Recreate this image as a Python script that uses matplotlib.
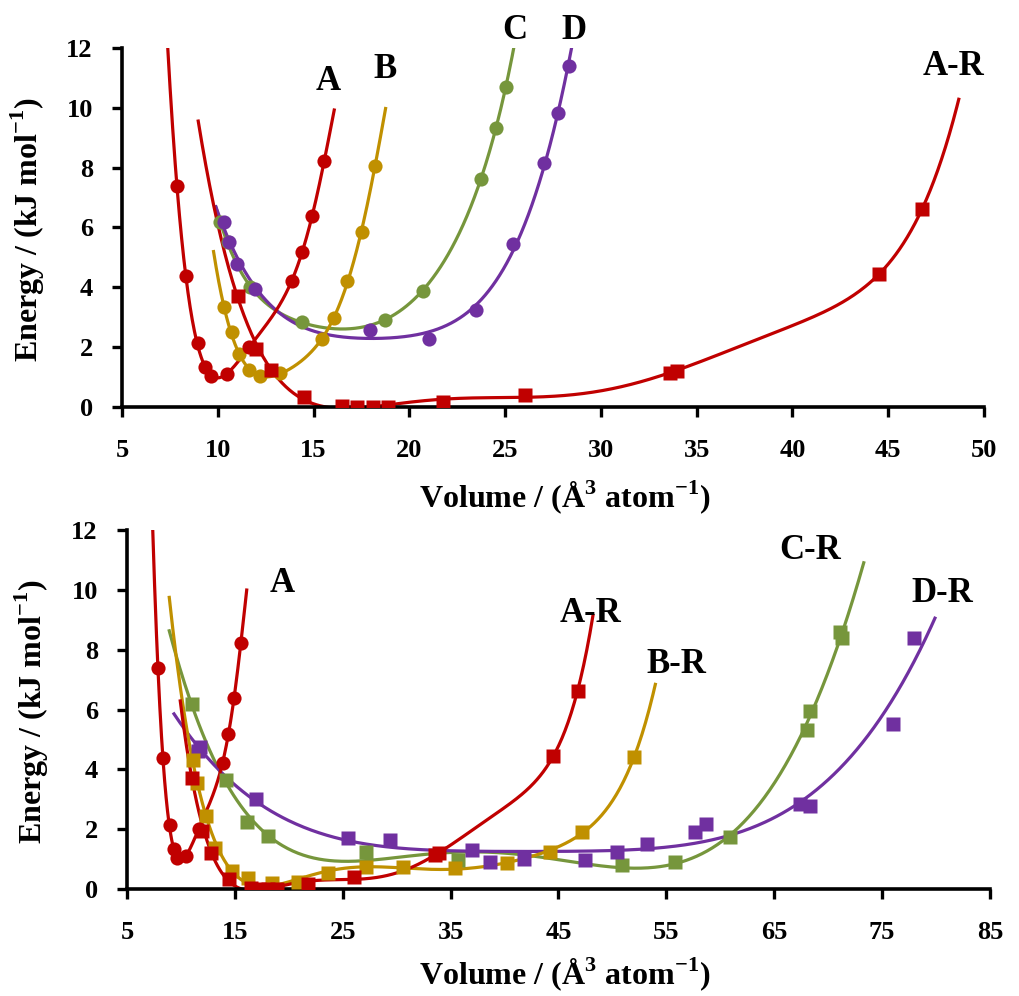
import numpy as np
import matplotlib
matplotlib.use("Agg")
import matplotlib.pyplot as plt

plt.rcParams["font.family"] = ["Liberation Serif", "DejaVu Serif"]
plt.rcParams["font.weight"] = "bold"
plt.rcParams["mathtext.fontset"] = "custom"
plt.rcParams["mathtext.rm"] = "Liberation Serif:bold"
plt.rcParams["mathtext.bf"] = "Liberation Serif:bold"

RED = "#C00000"
GOLD = "#C09000"
GREEN = "#76963C"
PURPLE = "#7030A0"

# ---- data (volume, energy) ----
a_x = [7.87, 8.32, 8.95, 9.33, 9.63, 10.46, 11.65, 13.87, 14.39, 14.93, 15.56]
a_y = [7.40, 4.38, 2.15, 1.35, 1.03, 1.10, 2.02, 4.21, 5.17, 6.39, 8.23]

ar_x = [11.07, 12.0, 12.76, 14.5, 16.47, 17.25, 18.12, 18.9, 21.77, 26.03, 33.6, 33.95, 44.52, 46.77]
ar_y = [3.72, 1.95, 1.22, 0.32, 0.03, 0.0, 0.01, 0.01, 0.16, 0.40, 1.15, 1.20, 4.45, 6.62]

b_x = [10.32, 10.72, 11.1, 11.64, 12.2, 13.25, 15.46, 16.08, 16.74, 17.51, 18.2]
b_y = [3.33, 2.52, 1.76, 1.24, 1.03, 1.15, 2.26, 2.99, 4.21, 5.84, 8.04]

c_x = [10.1, 10.55, 11.68, 14.39, 18.73, 20.69, 23.72, 24.55, 25.02]
c_y = [6.2, 5.5, 4.0, 2.84, 2.91, 3.89, 7.63, 9.33, 10.69]

d_x = [10.34, 10.6, 11.02, 11.94, 17.94, 21.02, 23.48, 25.42, 27.03, 27.77, 28.31]
d_y = [6.2, 5.5, 4.77, 3.96, 2.58, 2.26, 3.24, 5.45, 8.15, 9.82, 11.4]

br_x = [11.15, 11.5, 12.33, 13.16, 14.71, 16.25, 18.42, 20.89, 23.67, 27.2, 30.6, 35.4,
        40.2, 44.24, 47.2, 52.03]
br_y = [4.31, 3.53, 2.44, 1.36, 0.61, 0.36, 0.21, 0.24, 0.52, 0.75, 0.75, 0.69,
        0.86, 1.25, 1.92, 4.42]

cr_x = [11.0, 14.2, 16.16, 18.1, 27.2, 35.7, 50.9, 55.83, 60.94, 68.05, 68.3, 71.1, 71.3]
cr_y = [6.2, 3.64, 2.25, 1.78, 1.25, 0.97, 0.80, 0.91, 1.75, 5.31, 5.96, 8.58, 8.38]

dr_x = [11.55, 11.8, 17.0, 25.5, 29.4, 36.97, 38.67, 41.77, 47.5, 50.4, 53.2,
        57.63, 58.68, 67.37, 68.36, 76.0, 77.94]
dr_y = [4.6, 4.75, 3.0, 1.69, 1.64, 1.32, 0.91, 1.02, 0.97, 1.25, 1.5,
        1.89, 2.16, 2.83, 2.77, 5.5, 8.38]

# trendlines are polynomial fits (degree per series), drawn over a span
top_series = [
    # x, y, colour, marker, span, degree
    (c_x, c_y, GREEN, "o", (9.9, 25.6), 6),
    (d_x, d_y, PURPLE, "o", (9.9, 28.6), 4),
    (b_x, b_y, GOLD, "o", (9.78, 18.76), 6),
    (ar_x, ar_y, RED, "s", (8.98, 48.68), 6),
    (a_x, a_y, RED, "o", (7.2, 16.08), 6),
]
bottom_series = [
    (cr_x, cr_y, GREEN, "s", (8.92, 73.3), 5),
    (dr_x, dr_y, PURPLE, "s", (9.36, 79.9), 4),
    (br_x, br_y, GOLD, "s", (8.92, 53.98), 6),
    (ar_x, ar_y, RED, "s", (9.94, 48.2), 6),
    (a_x, a_y, RED, "o", (7.2, 16.1), 6),
]

top_labels = [("A", 15.75, 10.87), ("B", 18.73, 11.27), ("C", 25.5, 12.6),
              ("D", 28.6, 12.6), ("A-R", 48.4, 11.37)]
bottom_labels = [("A", 19.35, 10.2), ("A-R", 47.95, 9.2), ("B-R", 55.9, 7.5),
                 ("C-R", 68.3, 11.3), ("D-R", 80.57, 9.88)]


def trend(x, y, span, deg):
    p = np.polyfit(np.asarray(x, float), np.asarray(y, float), deg)
    xs = np.linspace(span[0], span[1], 400)
    return xs, np.polyval(p, xs)


def draw(ax, series, labels, ms):
    for x, y, col, mk, span, deg in series:
        xs, ys = trend(x, y, span, deg)
        ax.plot(xs, ys, color=col, lw=2.3, zorder=2)
        size = ms if mk == "o" else ms + 0.5
        ax.plot(x, y, ls="none", marker=mk, color=col, ms=size, mec="none", zorder=3)
    for txt, lx, ly in labels:
        ax.text(lx, ly, txt, fontsize=25, fontweight="bold", ha="center", va="center",
                clip_on=False)


def style(ax, xlim, xticks):
    ax.set_xlim(*xlim)
    ax.set_ylim(0, 12)
    ax.set_xticks(xticks)
    ax.set_yticks(range(0, 13, 2))
    for s in ["top", "right"]:
        ax.spines[s].set_visible(False)
    for s in ["left", "bottom"]:
        ax.spines[s].set_linewidth(2.6)
    ax.tick_params(axis="x", direction="out", length=7, width=2.4, labelsize=19, pad=16)
    ax.tick_params(axis="y", direction="out", length=7, width=2.4, labelsize=19, pad=14)
    ax.set_ylabel(r"Energy / (kJ mol$^{-1}$)", fontsize=23, fontweight="bold")
    ax.set_xlabel(r"Volume / (Å$^{3}$ atom$^{-1}$)", fontsize=23, fontweight="bold")
    ax.xaxis.label.set_va("center")
    ax.yaxis.label.set_va("center")


fig = plt.figure(figsize=(10.19, 9.96), dpi=100)
ax1 = fig.add_axes([0.1197, 0.5914, 0.846, 0.3604])
ax2 = fig.add_axes([0.1246, 0.1074, 0.8469, 0.3605])

draw(ax1, top_series, top_labels, 10.2)
style(ax1, (5, 50), range(5, 51, 5))
ax1.xaxis.set_label_coords(0.514, -0.251)
ax1.yaxis.set_label_coords(-0.109, 0.493)

draw(ax2, bottom_series, bottom_labels, 10.2)
style(ax2, (5, 85), range(5, 86, 10))
ax2.xaxis.set_label_coords(0.507, -0.237)
ax2.yaxis.set_label_coords(-0.110, 0.493)

fig.savefig("out.png", dpi=100)
